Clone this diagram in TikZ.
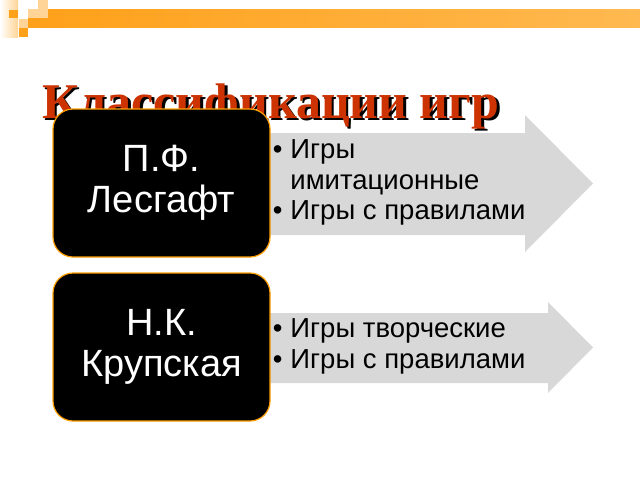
\documentclass[tikz,border=0pt]{standalone}
\usepackage{fontspec}
\setmainfont{Liberation Serif}
\newfontfamily\arialfont{Liberation Sans}
\usetikzlibrary{positioning}
\definecolor{barorange}{RGB}{255,160,25}
\definecolor{barlight}{RGB}{255,185,80}
\definecolor{paleorange}{RGB}{255,212,150}
\definecolor{boxedge}{RGB}{255,160,0}
\definecolor{arrowgray}{RGB}{216,216,216}
\definecolor{titlered}{RGB}{204,51,0}

\begin{document}
\begin{tikzpicture}[x=1pt,y=-1pt,
  namebox/.style={draw=boxedge,line width=1.2pt,fill=black,rounded corners=20pt,
    minimum width=217pt,minimum height=148pt,text=white,align=center,
    font=\arialfont\fontsize{38}{41}\selectfont},
  itemlist/.style={inner sep=2pt,font=\arialfont\fontsize{27.5}{30.5}\selectfont},
  titletext/.style={anchor=base west,inner sep=0pt,font=\bfseries\fontsize{50}{54}\selectfont},
  bigarrow/.style={fill=arrowgray}]
\useasboundingbox (0,0) rectangle (640,480);
% top bar
\shade[left color=white,right color=paleorange] (0,0) rectangle (18,37);
\shade[left color=barorange,right color=barlight] (28,9) rectangle (640,27);
\fill[paleorange] (28,9) rectangle (48,18);
\fill[barorange] (9,10) rectangle (18,18);
\fill[paleorange] (38,0) rectangle (48,9);
\fill[paleorange] (19,19) rectangle (28,28);
\fill[barorange] (19,28) rectangle (28,37);
% title
\node[titletext,text=black] (titleshadow) at (44.5,120.5) {Классификации игр};
\node[titletext,text=titlered] (title) at (42,118) {Классификации игр};
% arrows
\fill[bigarrow] (250,133) -- (525,133) -- (525,115) -- (593,183.5) -- (525,252) -- (525,235) -- (250,235) -- cycle;
\fill[bigarrow] (250,313) -- (548,313) -- (548,302) -- (593,347.5) -- (548,393) -- (548,383) -- (250,383) -- cycle;
% authors
\node[namebox] (lesgaft) at (161.5,183) {П.Ф.\\Лесгафт};
\node[namebox] (krupskaya) at (161.5,347) {Н.К.\\Крупская};
% kinds of games
\node[itemlist,right=0pt of lesgaft] (games1) {\begin{tabular}{@{}l@{\hspace{8pt}}l@{}}
  \textbullet & Игры\\
   & имитационные\\
  \textbullet & Игры с правилами
  \end{tabular}};
\node[itemlist,right=0pt of krupskaya] (games2) {\begin{tabular}{@{}l@{\hspace{8pt}}l@{}}
  \textbullet & Игры творческие\\
  \textbullet & Игры с правилами
  \end{tabular}};
\end{tikzpicture}
\end{document}
